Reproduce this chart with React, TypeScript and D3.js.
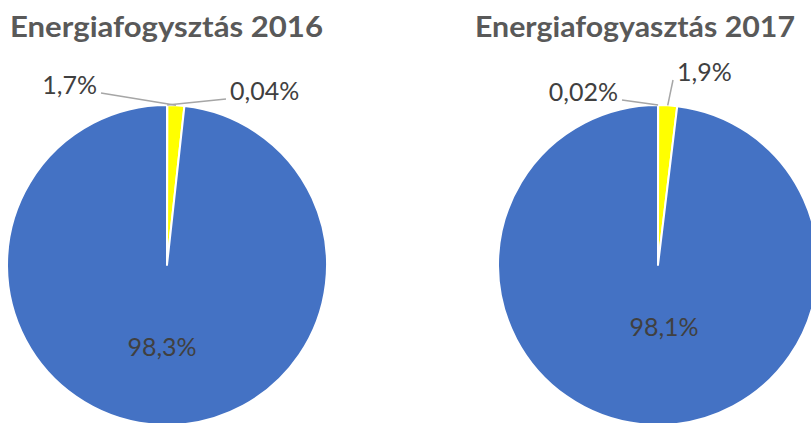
import React, { useEffect, useRef } from "react";
import * as d3 from "d3";

// adatok
const titles = ["Energiafogysztás 2016", "Energiafogyasztás 2017"];
const sliceNames = ["egyéb", "sárga", "kék"];
const values2016 = [0.04, 1.7, 98.3];
const values2017 = [0.02, 1.9, 98.1];
const labels2016 = ["0,04%", "1,7%", "98,3%"];
const labels2017 = ["0,02%", "1,9%", "98,1%"];
const colors = ["#A5A5A5", "#FFFF00", "#4472C4"];

const width = 811;
const height = 423;
const radius = 160;

// elrendezés: középpont, cím, címkék helye a középponthoz képest
const layouts = [
  {
    cx: 167, cy: 265, titleX: 10, titleW: 313,
    labels: [
      { dx: 63, dy: -165, anchor: "start", leader: true },
      { dx: -70, dy: -171, anchor: "end", leader: true },
      { dx: -5, dy: 91, anchor: "middle", leader: false },
    ],
  },
  {
    cx: 658, cy: 265, titleX: 475, titleW: 320,
    labels: [
      { dx: -40, dy: -164, anchor: "end", leader: true },
      { dx: 19, dy: -184, anchor: "start", leader: true },
      { dx: 6, dy: 71, anchor: "middle", leader: false },
    ],
  },
];

function App() {
  const ref = useRef<SVGSVGElement>(null);

  useEffect(() => {
    const svg = d3.select(ref.current);
    svg.selectAll("*").remove();

    const pie = d3.pie<number>().sort(null).value(d => d);
    const arc = d3.arc<d3.PieArcDatum<number>>().innerRadius(0).outerRadius(radius);
    const edge = d3.arc<d3.PieArcDatum<number>>().innerRadius(radius).outerRadius(radius);

    const series = [values2016, values2017];
    const labelSets = [labels2016, labels2017];

    series.forEach((values, k) => {
      const lay = layouts[k];
      const g = svg.append("g").attr("transform", `translate(${lay.cx},${lay.cy})`);
      const arcs = pie(values);

      g.selectAll("path.slice")
        .data(arcs)
        .enter()
        .append("path")
        .attr("class", "slice")
        .attr("d", arc)
        .attr("fill", (d, i) => colors[i])
        .attr("stroke", "#fff")
        .attr("stroke-width", 2)
        .attr("stroke-linejoin", "round")
        .append("title")
        .text((d, i) => sliceNames[i]);

      // vezetővonalak
      arcs.forEach((a, i) => {
        const l = lay.labels[i];
        if (!l.leader) return;
        const [px, py] = edge.centroid(a);
        const ex = l.anchor === "end" ? l.dx + 4 : l.dx - 4;
        const ey = l.dy - 1;
        g.append("path")
          .attr("d", d3.line()([[ex, ey], [px, py]]))
          .attr("fill", "none")
          .attr("stroke", "#A6A6A6")
          .attr("stroke-width", 1.5);
      });

      g.selectAll("text.lbl")
        .data(arcs)
        .enter()
        .append("text")
        .attr("class", "lbl")
        .attr("x", (d, i) => lay.labels[i].dx)
        .attr("y", (d, i) => lay.labels[i].dy)
        .attr("text-anchor", (d, i) => lay.labels[i].anchor)
        .attr("font-family", "Lato, 'Open Sans', sans-serif")
        .attr("font-size", 25)
        .attr("fill", "#404040")
        .text((d, i) => labelSets[k][i]);

      svg.append("text")
        .attr("x", lay.titleX)
        .attr("y", 37)
        .attr("font-family", "Lato, 'Open Sans', sans-serif")
        .attr("font-weight", "bold")
        .attr("font-size", 28)
        .attr("fill", "#595959")
        .attr("textLength", lay.titleW)
        .attr("lengthAdjust", "spacingAndGlyphs")
        .text(titles[k]);
    });
  }, []);

  return (
    <svg
      ref={ref}
      width={width}
      height={height}
      style={{ position: "absolute", left: 0, top: 0, background: "#fff" }}
    />
  );
}

export default App;
